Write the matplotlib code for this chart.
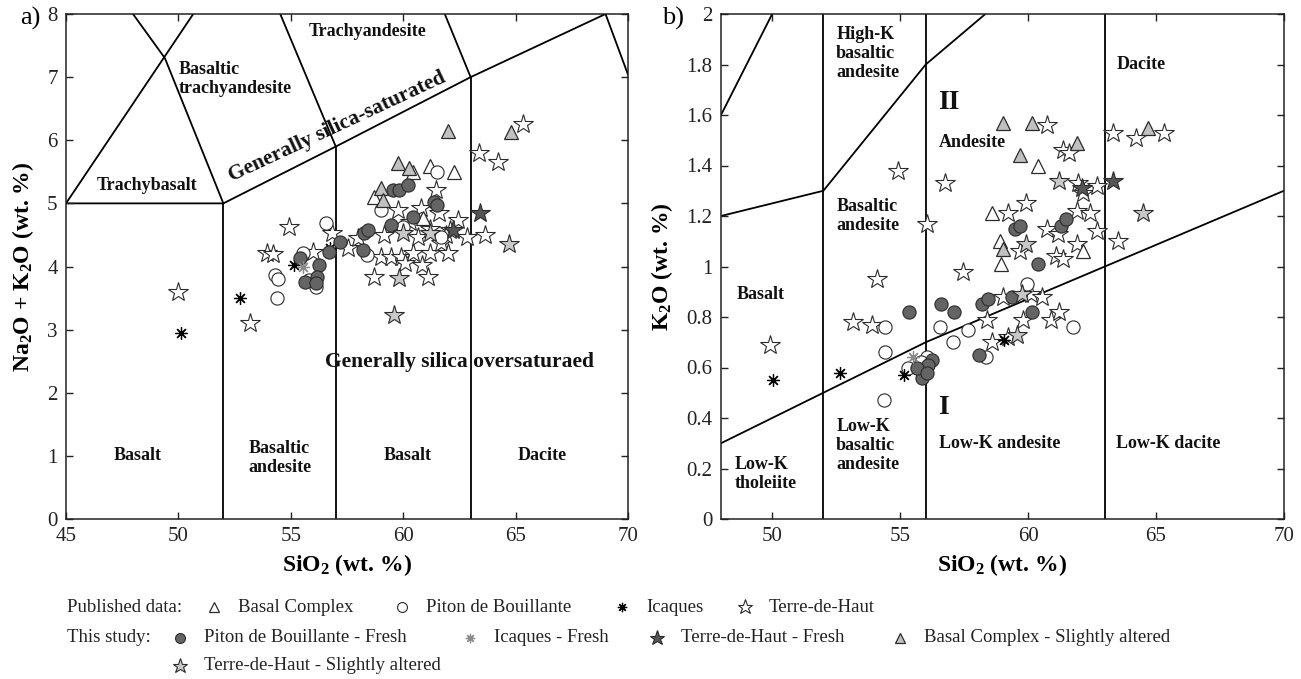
import matplotlib
matplotlib.use("Agg")
import matplotlib.pyplot as plt

plt.rcParams['font.family'] = ['Liberation Serif', 'DejaVu Serif']
plt.rcParams['mathtext.default'] = 'regular'

# ---------------- TAS (panel a) data ----------------
tas_bc_pub_x = [58.7, 60.45, 61.2, 62.25, 60.9]
tas_bc_pub_y = [5.1, 5.5, 5.6, 5.5, 4.77]
tas_pdb_pub_x = [54.3, 54.4, 54.45, 56.55, 55.55, 56.1, 55.8, 59.0, 61.5, 58.4, 60.0, 61.7]
tas_pdb_pub_y = [3.87, 3.5, 3.8, 4.69, 4.21, 3.68, 3.79, 4.9, 5.5, 4.18, 4.63, 4.47]
tas_ica_pub_x = [50.1, 52.75, 55.15, 56.75]
tas_ica_pub_y = [2.95, 3.5, 4.02, 4.3]
tas_tdh_pub_x = [50.0, 53.2, 53.95, 54.2, 54.9, 56.0, 56.85, 57.55, 58.7, 59.0, 59.15, 59.45,
                 59.75, 59.9, 60.1, 60.45, 60.65, 60.8, 60.85, 61.1, 61.2, 61.2, 61.45, 61.6,
                 61.7, 62.0, 62.1, 62.45, 62.85, 63.35, 63.65, 64.2, 65.35, 58.0, 60.3, 61.9]
tas_tdh_pub_y = [3.6, 3.1, 4.21, 4.2, 4.63, 4.23, 4.53, 4.29, 3.84, 4.15, 4.5, 4.15,
                 4.9, 4.15, 4.05, 4.21, 4.47, 4.93, 4.03, 3.84, 4.21, 4.6, 5.21, 4.85,
                 4.37, 4.21, 4.58, 4.74, 4.47, 5.8, 4.5, 5.66, 6.26, 4.45, 4.7, 4.5]
tas_pdb_fresh_x = [55.4, 56.25, 56.15, 55.65, 56.1, 56.7, 57.2, 58.2, 58.25, 58.45, 59.45,
                   59.55, 59.8, 60.2, 60.45, 61.35, 61.5]
tas_pdb_fresh_y = [4.14, 4.03, 3.84, 3.76, 3.74, 4.23, 4.39, 4.26, 4.53, 4.58, 4.66,
                   5.21, 5.21, 5.29, 4.79, 5.02, 4.98]
tas_ica_fresh_x = [55.55]
tas_ica_fresh_y = [3.99]
tas_tdh_fresh_x = [62.2, 63.4]
tas_tdh_fresh_y = [4.58, 4.85]
tas_bc_alt_x = [59.0, 59.1, 59.75, 60.25, 62.0, 64.8]
tas_bc_alt_y = [5.25, 5.06, 5.64, 5.56, 6.15, 6.13]
tas_tdh_alt_x = [59.6, 59.8, 60.0, 61.2, 64.7]
tas_tdh_alt_y = [3.23, 3.82, 4.53, 4.53, 4.35]

# ---------------- K2O vs SiO2 (panel b) data ----------------
k_bc_pub_x = [58.6, 58.9, 58.95, 60.4, 62.15]
k_bc_pub_y = [1.21, 1.10, 1.01, 1.40, 1.06]
k_pdb_pub_x = [54.4, 54.4, 54.35, 56.55, 57.65, 57.05, 58.35, 59.95, 61.75, 56.05, 55.3, 55.8]
k_pdb_pub_y = [0.76, 0.66, 0.47, 0.76, 0.75, 0.70, 0.64, 0.93, 0.76, 0.64, 0.60, 0.62]
k_ica_pub_x = [50.05, 52.65, 55.15, 59.05]
k_ica_pub_y = [0.55, 0.58, 0.57, 0.71]
k_tdh_pub_x = [49.9, 53.15, 53.9, 54.1, 54.9, 56.05, 56.75, 57.45, 58.4, 58.6, 59.0, 59.2, 59.8,
               59.9, 59.7, 60.1, 60.55, 60.75, 60.75, 60.9, 61.15, 61.1, 61.2, 61.35, 61.35,
               61.6, 61.9, 61.9, 61.95, 62.15, 62.4, 62.7, 62.7, 63.3, 63.5, 64.2, 65.3, 59.2]
k_tdh_pub_y = [0.69, 0.78, 0.77, 0.95, 1.38, 1.17, 1.33, 0.98, 0.79, 0.70, 0.88, 1.21, 0.79,
               1.25, 1.06, 0.89, 0.88, 1.56, 1.15, 0.79, 1.13, 1.04, 0.82, 1.46, 1.03,
               1.45, 1.22, 1.09, 1.33, 1.29, 1.21, 1.14, 1.32, 1.53, 1.10, 1.51, 1.53, 0.72]
k_pdb_fresh_x = [55.35, 56.6, 57.1, 58.2, 58.43, 59.37, 60.15, 60.4, 59.5, 59.7, 61.3, 61.5,
                 58.1, 56.25, 56.1, 55.85, 55.65, 56.05]
k_pdb_fresh_y = [0.82, 0.85, 0.82, 0.85, 0.87, 0.88, 0.82, 1.01, 1.15, 1.16, 1.16, 1.19,
                 0.65, 0.63, 0.61, 0.56, 0.60, 0.58]
k_ica_fresh_x = [55.5]
k_ica_fresh_y = [0.64]
k_tdh_fresh_x = [62.1, 63.3]
k_tdh_fresh_y = [1.31, 1.34]
k_bc_alt_x = [59.0, 60.15, 59.7, 61.9, 59.0, 64.7]
k_bc_alt_y = [1.57, 1.57, 1.44, 1.49, 1.07, 1.55]
k_tdh_alt_x = [64.5, 61.2, 59.9, 59.55, 59.75]
k_tdh_alt_y = [1.21, 1.34, 1.09, 0.73, 0.89]

# ---------------- classification boundaries ----------------
tas_lines = [
    ([45, 52, 57, 63, 69], [5, 5, 5.9, 7, 8]),
    ([52, 52], [0, 5]), ([57, 57], [0, 5.9]), ([63, 63], [0, 7]),
    ([45, 50.66], [5, 8]),
    ([52, 49.4, 47.98], [5, 7.3, 8]),
    ([57, 54.53], [5.9, 8]),
    ([63, 61.85], [7, 8]),
    ([69, 70], [8, 7.04]),
]
k_lines = [
    ([48, 50], [1.6, 2.0]),
    ([48, 52, 56, 58.33], [1.2, 1.3, 1.8, 2.0]),
    ([48, 52, 56, 63, 70], [0.3, 0.5, 0.7, 1.0, 1.3]),
    ([52, 52], [0, 2]), ([56, 56], [0, 2]), ([63, 63], [0, 2]),
]

# marker styles
EC = '#2b2b2b'
styles = {
    'bc_pub': dict(marker='^', ms=10, mfc='white', mec=EC, mew=0.9),
    'pdb_pub': dict(marker='o', ms=9.5, mfc='white', mec=EC, mew=0.8),
    'ica_pub': dict(marker=(8, 2, 0), ms=9, mfc='black', mec='black', mew=0.9),
    'tdh_pub': dict(marker='*', ms=15, mfc='white', mec=EC, mew=0.8),
    'pdb_fresh': dict(marker='o', ms=9.5, mfc='#646464', mec=EC, mew=0.8),
    'ica_fresh': dict(marker=(8, 2, 0), ms=9, mfc='#8a8a8a', mec='#8a8a8a', mew=0.9),
    'tdh_fresh': dict(marker='*', ms=15, mfc='#555555', mec=EC, mew=0.8),
    'bc_alt': dict(marker='^', ms=10, mfc='#c0c0c0', mec=EC, mew=0.9),
    'tdh_alt': dict(marker='*', ms=15, mfc='#c8c8c8', mec=EC, mew=0.8),
}

fig = plt.figure(figsize=(13.01, 6.79), dpi=100)
ax1 = fig.add_axes([66 / 1301, 160 / 679, 562 / 1301, 505 / 679])
ax2 = fig.add_axes([721 / 1301, 160 / 679, 563 / 1301, 505 / 679])


def draw_points(ax, series):
    for key, (xs, ys) in series:
        ax.plot(xs, ys, linestyle='none', **styles[key])


def frame(ax):
    for s in ax.spines.values():
        s.set_linewidth(1.1)
        s.set_color('#222222')
    ax.tick_params(direction='in', length=5, width=1, top=True, right=True,
                   labelsize=15, colors='#222222', pad=6)


# ----- panel a -----
for xs, ys in tas_lines:
    ax1.plot(xs, ys, color='black', lw=1.3, zorder=1)
draw_points(ax1, [
    ('tdh_pub', (tas_tdh_pub_x, tas_tdh_pub_y)),
    ('bc_pub', (tas_bc_pub_x, tas_bc_pub_y)),
    ('pdb_pub', (tas_pdb_pub_x, tas_pdb_pub_y)),
    ('ica_pub', (tas_ica_pub_x, tas_ica_pub_y)),
    ('pdb_fresh', (tas_pdb_fresh_x, tas_pdb_fresh_y)),
    ('ica_fresh', (tas_ica_fresh_x, tas_ica_fresh_y)),
    ('bc_alt', (tas_bc_alt_x, tas_bc_alt_y)),
    ('tdh_alt', (tas_tdh_alt_x, tas_tdh_alt_y)),
    ('tdh_fresh', (tas_tdh_fresh_x, tas_tdh_fresh_y)),
])
ax1.set_xlim(45, 70)
ax1.set_ylim(0, 8)
ax1.set_xticks(range(45, 71, 5))
ax1.set_yticks(range(0, 9))
frame(ax1)
ax1.set_xlabel('SiO$_2$ (wt. %)', fontsize=17, fontweight='bold', labelpad=4)
ax1.set_ylabel('Na$_2$O + K$_2$O (wt. %)', fontsize=17, fontweight='bold', labelpad=8)

lab = dict(fontsize=13, fontweight='bold', color='#111111')
ax1.text(50.0, 6.97, 'Basaltic\ntrachyandesite', ha='left', va='center', linespacing=1.15, **lab)
ax1.text(58.4, 7.72, 'Trachyandesite', ha='center', va='center', **lab)
ax1.text(48.6, 5.29, 'Trachybasalt', ha='center', va='center', **lab)
ax1.text(57.05, 6.22, 'Generally silica-saturated', ha='center', va='center', rotation=25,
         rotation_mode='anchor', fontsize=15.5, fontweight='bold', color='#111111')
ax1.text(62.5, 2.49, 'Generally silica oversaturaed', ha='center', va='center',
         fontsize=15.5, fontweight='bold', color='#111111')
ax1.text(48.2, 1.0, 'Basalt', ha='center', va='center', **lab)
ax1.text(54.5, 0.97, 'Basaltic\nandesite', ha='center', va='center', linespacing=1.15, **lab)
ax1.text(60.2, 1.0, 'Basalt', ha='center', va='center', **lab)
ax1.text(66.2, 1.0, 'Dacite', ha='center', va='center', **lab)

# ----- panel b -----
for xs, ys in k_lines:
    ax2.plot(xs, ys, color='black', lw=1.3, zorder=1)
draw_points(ax2, [
    ('tdh_pub', (k_tdh_pub_x, k_tdh_pub_y)),
    ('bc_pub', (k_bc_pub_x, k_bc_pub_y)),
    ('pdb_pub', (k_pdb_pub_x, k_pdb_pub_y)),
    ('ica_pub', (k_ica_pub_x, k_ica_pub_y)),
    ('pdb_fresh', (k_pdb_fresh_x, k_pdb_fresh_y)),
    ('ica_fresh', (k_ica_fresh_x, k_ica_fresh_y)),
    ('bc_alt', (k_bc_alt_x, k_bc_alt_y)),
    ('tdh_alt', (k_tdh_alt_x, k_tdh_alt_y)),
    ('tdh_fresh', (k_tdh_fresh_x, k_tdh_fresh_y)),
])
ax2.set_xlim(48, 70)
ax2.set_ylim(0, 2)
ax2.set_xticks(range(50, 71, 5))
k_ticks = [0, 0.2, 0.4, 0.6, 0.8, 1, 1.2, 1.4, 1.6, 1.8, 2]
ax2.set_yticks(k_ticks)
ax2.set_yticklabels(['%g' % v for v in k_ticks])
frame(ax2)
ax2.set_xlabel('SiO$_2$ (wt. %)', fontsize=17, fontweight='bold', labelpad=4)
ax2.set_ylabel('K$_2$O (wt. %)', fontsize=17, fontweight='bold', labelpad=8)

ax2.text(52.5, 1.845, 'High-K\nbasaltic\nandesite', ha='left', va='center', linespacing=1.15, **lab)
ax2.text(63.45, 1.80, 'Dacite', ha='left', va='center', **lab)
ax2.text(56.5, 1.65, 'II', ha='left', va='center', fontsize=20, fontweight='bold', color='#111111')
ax2.text(56.5, 1.49, 'Andesite', ha='left', va='center', **lab)
ax2.text(52.5, 1.2, 'Basaltic\nandesite', ha='left', va='center', linespacing=1.15, **lab)
ax2.text(48.6, 0.89, 'Basalt', ha='left', va='center', **lab)
ax2.text(56.5, 0.44, 'I', ha='left', va='center', fontsize=20, fontweight='bold', color='#111111')
ax2.text(52.5, 0.29, 'Low-K\nbasaltic\nandesite', ha='left', va='center', linespacing=1.15, **lab)
ax2.text(56.5, 0.30, 'Low-K andesite', ha='left', va='center', **lab)
ax2.text(63.45, 0.30, 'Low-K dacite', ha='left', va='center', **lab)
ax2.text(48.55, 0.18, 'Low-K\ntholeiite', ha='left', va='center', linespacing=1.15, **lab)

fig.text(20 / 1301, 1 - 18 / 679, 'a)', fontsize=19, ha='left', va='center')
fig.text(662 / 1301, 1 - 18 / 679, 'b)', fontsize=19, ha='left', va='center')

# ----- legend (manual layout, pixel coordinates) -----
lg = fig.add_axes([0, 0, 1, 1])
lg.set_xlim(0, 1301)
lg.set_ylim(679, 0)
lg.axis('off')
leg_small = {k: dict(v) for k, v in styles.items()}
for k in leg_small:
    leg_small[k]['ms'] = styles[k]['ms'] * 0.75
rows = [
    (607, 'Published data:', [(214, 'bc_pub', 'Basal Complex'),
                              (402, 'pdb_pub', 'Piton de Bouillante'),
                              (622, 'ica_pub', 'Icaques'),
                              (745, 'tdh_pub', 'Terre-de-Haut')]),
    (638, 'This study:', [(180, 'pdb_fresh', 'Piton de Bouillante - Fresh'),
                          (470, 'ica_fresh', 'Icaques - Fresh'),
                          (657, 'tdh_fresh', 'Terre-de-Haut - Fresh'),
                          (900, 'bc_alt', 'Basal Complex - Slightly altered')]),
    (666, '', [(180, 'tdh_alt', 'Terre-de-Haut - Slightly altered')]),
]
for y, title, entries in rows:
    if title:
        lg.text(67, y, title, fontsize=13.5, ha='left', va='center', color='#222222')
    for x, key, text in entries:
        lg.plot([x], [y], linestyle='none', **leg_small[key])
        lg.text(x + 24, y, text, fontsize=13.5, ha='left', va='center', color='#222222')

fig.savefig('out.png', dpi=100)
